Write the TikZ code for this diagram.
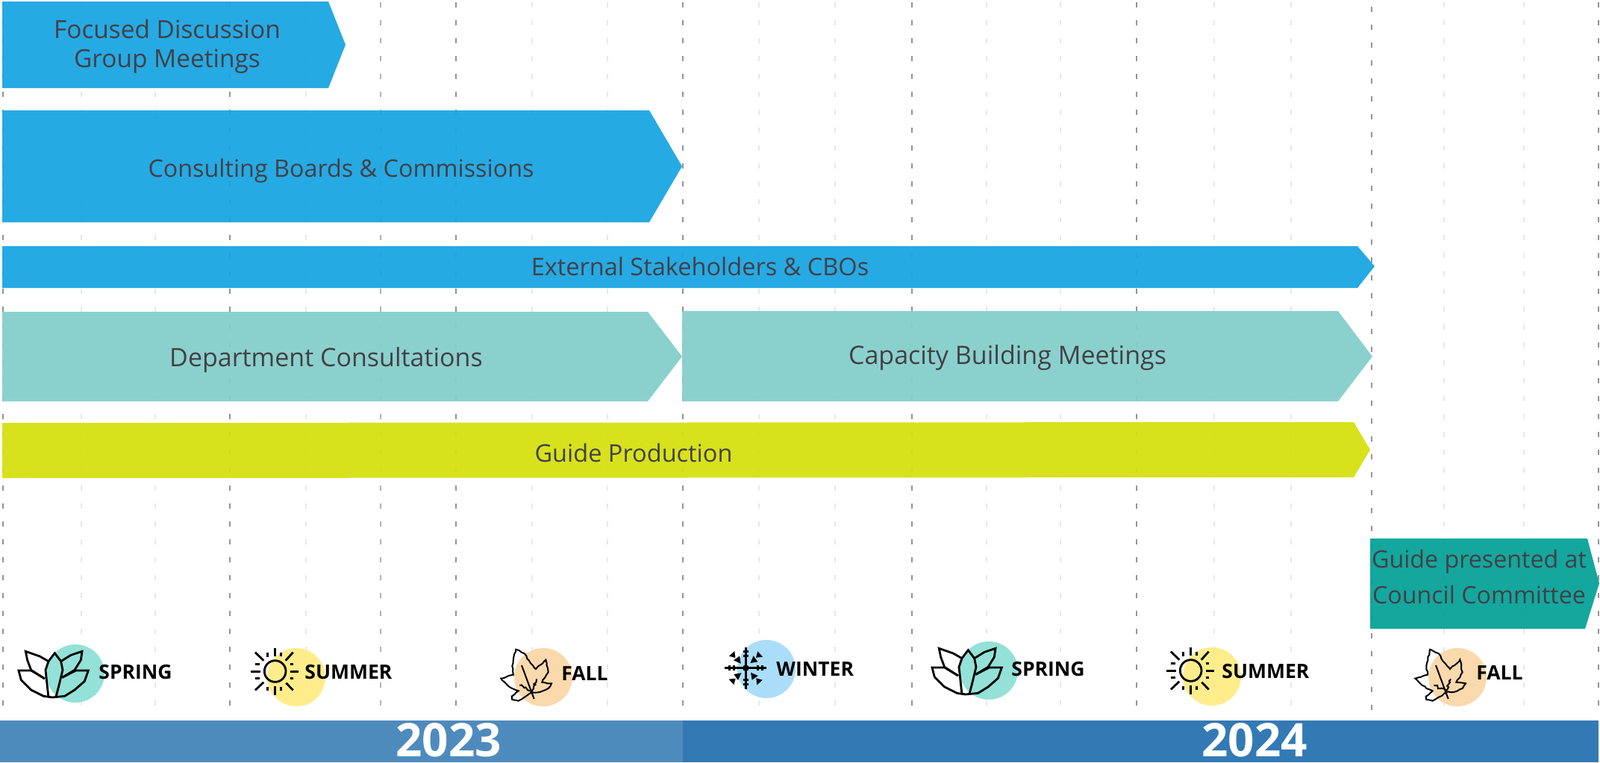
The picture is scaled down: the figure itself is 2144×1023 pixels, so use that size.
\documentclass[tikz,border=0pt]{standalone}
\usepackage{fontspec}
\setmainfont{Open Sans}
\usetikzlibrary{decorations.pathmorphing}

\definecolor{barblue}{HTML}{1AA5E1}
\definecolor{barteal}{HTML}{84CFCA}
\definecolor{barlime}{HTML}{D5E011}
\definecolor{bargreen}{HTML}{06A298}
\definecolor{yearone}{HTML}{4E8BBD}
\definecolor{yeartwo}{HTML}{337AB5}
\definecolor{labelgray}{HTML}{443F46}
\definecolor{dotspring}{HTML}{8DDFD5}
\definecolor{dotsummer}{HTML}{FFEC85}
\definecolor{dotfall}{HTML}{FAD7A8}
\definecolor{dotwinter}{HTML}{A5DCF8}

\tikzset{
    iconline/.style={draw=black, line width=1.4pt, line join=miter},
    springicon/.pic={
        \begin{scope}[x=0.1667pt, y=-0.1667pt, shift={(-258,-144)}, iconline]
            \draw (150,240) -- (138,130) -- (150,95) -- (175,62) -- (200,95) -- (207,130) -- (190,200) -- (180,238);
            \draw (150,95) -- (115,75) -- (58,55) -- (65,90) -- (80,130) -- (135,165);
            \draw (200,95) -- (240,70) -- (285,55) -- (280,90) -- (255,130) -- (205,160);
            \draw (135,165) -- (80,132) -- (30,132) -- (40,170) -- (80,210) -- (130,235) -- (165,240);
            \draw (205,160) -- (260,132) -- (310,132) -- (295,175) -- (255,210) -- (215,235) -- (165,240);
        \end{scope}
    },
    sunicon/.pic={
        \begin{scope}[x=0.1667pt, y=-0.1667pt, shift={(-213,-145)}, iconline]
            \draw (128,121) circle (43);
            \foreach \xa/\ya/\xb/\yb in {127/28/127/62, 127/180/127/218, 30/123/70/123, 190/123/222/123,
                97/45/97/65, 152/45/152/62, 97/185/97/198, 152/185/152/198,
                48/93/65/93, 188/93/202/93, 48/150/65/150, 188/150/202/150,
                48/45/82/78, 200/45/170/78, 82/165/48/197, 172/168/200/197}
                \draw (\xa,\ya) -- (\xb,\yb);
        \end{scope}
    },
    fallicon/.pic={
        \begin{scope}[x=0.1667pt, y=-0.1667pt, shift={(-205,-145)}, iconline, line width=1pt]
            \draw[decorate, decoration={random steps, segment length=2pt, amplitude=0.4pt}]
                (95,33) -- (130,50) -- (140,70) -- (175,112) -- (215,75) -- (225,125) -- (200,165) -- (238,170)
                -- (225,190) -- (190,205) -- (160,205) -- (130,225) -- (105,240) -- (80,235) -- (78,222) -- (105,200)
                -- (80,190) -- (50,165) -- (35,150) -- (85,135) -- (80,100) -- cycle;
            \draw (118,97) -- (168,232);
            \draw[decorate, decoration={random steps, segment length=1.5pt, amplitude=1pt}] (110,178) -- (160,200);
            \draw[decorate, decoration={random steps, segment length=1.5pt, amplitude=1pt}] (178,152) -- (155,205);
        \end{scope}
    },
    wintericon/.pic={
        \begin{scope}[x=0.1667pt, y=-0.1667pt, shift={(-83,-4)}, iconline]
            \fill (0,0) circle (13);
            \foreach \r in {0,90,180,270}{
                \begin{scope}[rotate=\r]
                    \draw (0,0) -- (0,-84);
                    \draw (-10,-48) -- (10,-48);
                    \draw (-10,-66) -- (10,-66);
                    \fill (-67,-48) -- (-45,-68) -- (-42,-41) -- cycle;
                    \fill (-49,-31) -- (-25,-48) -- (-20,-18) -- cycle;
                \end{scope}
            }
        \end{scope}
    }
}

\begin{document}
\begin{tikzpicture}[
        x=0.5pt, y=-0.5pt,
        every node/.style={align=center, inner sep=0pt},
        majorgrid/.style={draw=black!42, line width=1pt, dash pattern=on 3.25pt off 8.75pt},
        minorgrid/.style={draw=black!9, line width=0.7pt, dash pattern=on 3.25pt off 8.75pt},
        bar/.style={fill opacity=0.95},
        barlabel/.style={font=\fontsize{#1}{19.5}\selectfont, text=labelgray},
        barlabel/.default=16,
        seasondot/.style={circle, minimum size=39pt, fill opacity=0.95},
        seasonlabel/.style={font=\fontsize{13.25}{16}\selectfont\bfseries, anchor=west},
        yearlabel/.style={font=\fontsize{31}{36}\selectfont\bfseries, text=white}
    ]
    \useasboundingbox (0,0) rectangle (2144,1023);

    % Grid
    \foreach \x in {109,208,410,713,814,1017,1119,1322,1421,1627,1730,1935,2042}
        \draw[minorgrid] (\x,3) -- (\x,960);
    \draw[minorgrid, draw=black!30] (510,3) -- (510,960);
    \foreach \x/\y in {4/3,308/3,611/3,915/3,1222/3,1523/3,1838/9,2142/3}
        \draw[majorgrid] (\x,\y) -- (\x,960);

    % Bars
    \fill[bar, barblue] (3,2) -- (440,2) -- (463,60) -- (440,118) -- (3,118) -- cycle;
    \fill[bar, barblue] (3,148) -- (870,148) -- (914,223) -- (870,298) -- (3,298) -- cycle;
    \fill[bar, barblue] (3,330) -- (1819,330) -- (1842,357) -- (1819,386) -- (3,386) -- cycle;
    \fill[bar, barteal] (3,418) -- (868,418) -- (914,478) -- (868,538) -- (3,538) -- cycle;
    \fill[bar, barteal] (914,417) -- (1793,417) -- (1839,478) -- (1793,538) -- (914,538) -- cycle;
    \fill[bar, barlime] (3,567) -- (1814,566) -- (1836,603) -- (1814,640) -- (3,641) -- cycle;
    \fill[bar, bargreen] (1836,722) -- (2127,722) -- (2143,782) -- (2124,843) -- (1836,843) -- cycle;

    % Bar labels
    \node[barlabel=16.7] (focused) at (224,62) {Focused Discussion\\Group Meetings};
    \node[barlabel=16.15] (consulting) at (457,229) {Consulting Boards \& Commissions};
    \node[barlabel=16.25] (external) at (938,357) {External Stakeholders \& CBOs};
    \node[barlabel=17] (department) at (437,483) {Department Consultations};
    \node[barlabel=17] (capacity) at (1350,480) {Capacity Building Meetings};
    \node[barlabel=16.25] (production) at (849,607) {Guide Production};
    \node[barlabel, font=\fontsize{16.1}{24}\selectfont] (presented) at (1982,773) {Guide presented at\\Council Committee};

    % Seasons
    \node[seasondot, fill=dotspring] (spring1) at (101,903) {};
    \node[seasondot, fill=dotsummer] (summer1) at (397,908) {};
    \node[seasondot, fill=dotfall] (fall1) at (728,908) {};
    \node[seasondot, fill=dotwinter] (winter1) at (1027,897) {};
    \node[seasondot, fill=dotspring] (spring2) at (1325,899) {};
    \node[seasondot, fill=dotsummer] (summer2) at (1624,907) {};
    \node[seasondot, fill=dotfall] (fall2) at (1953,908) {};

    \pic at (spring1) {springicon};
    \pic at (summer1) {sunicon};
    \pic at (fall1) {fallicon};
    \pic at (winter1) {wintericon};
    \pic at (spring2) {springicon};
    \pic at (summer2) {sunicon};
    \pic at (fall2) {fallicon};

    \node[seasonlabel] (springtext1) at (132,901) {SPRING};
    \node[seasonlabel] (summertext1) at (408,901) {SUMMER};
    \node[seasonlabel] (falltext1) at (752,903) {FALL};
    \node[seasonlabel] (wintertext1) at (1040,897) {WINTER};
    \node[seasonlabel] (springtext2) at (1355,897) {SPRING};
    \node[seasonlabel] (summertext2) at (1637,900) {SUMMER};
    \node[seasonlabel] (falltext2) at (1978,902) {FALL};

    % Years
    \fill[yearone] (0,966) rectangle (915,1022);
    \fill[yeartwo] (915,966) rectangle (2142,1022);
    \node[yearlabel] (yearA) at (601,992) {2023};
    \node[yearlabel] (yearB) at (1681,992) {2024};
\end{tikzpicture}
\end{document}
